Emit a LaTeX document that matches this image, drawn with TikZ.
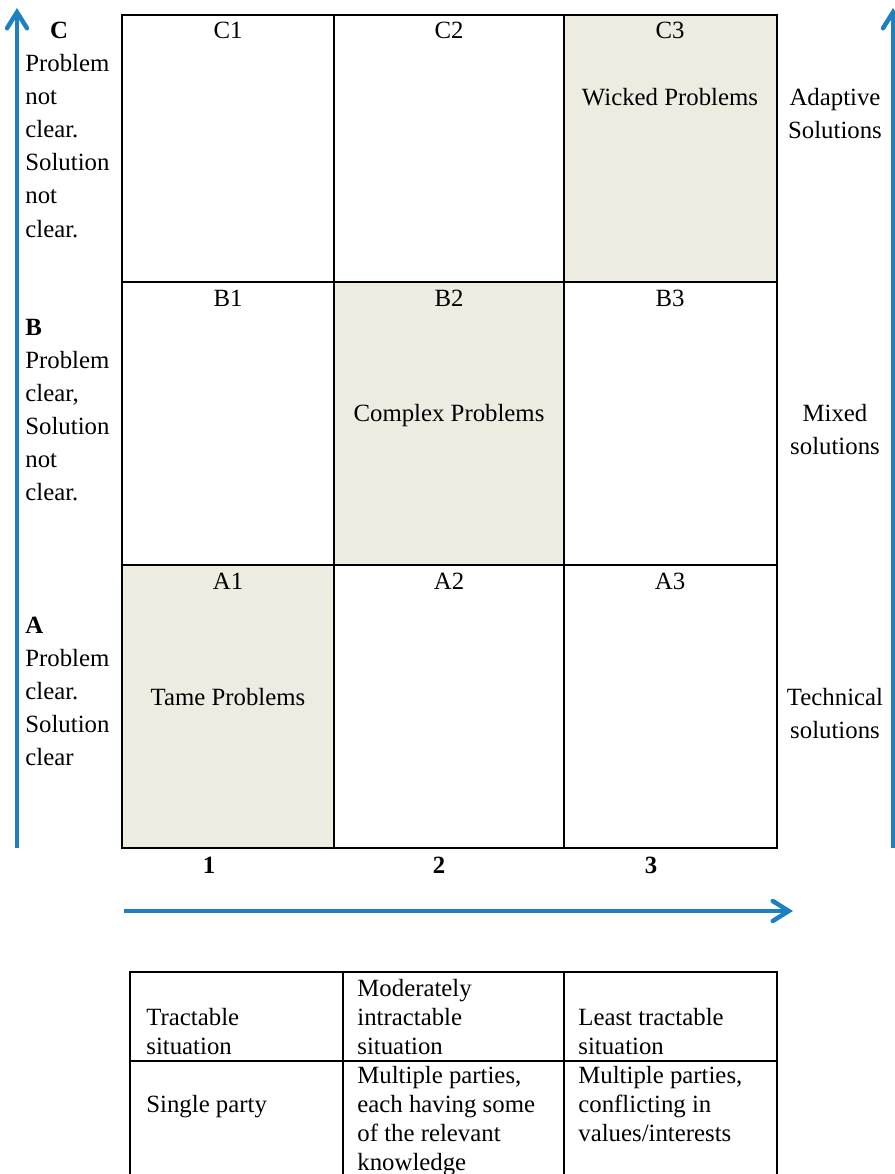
\documentclass[tikz,border=0pt]{standalone}
\usepackage{fontspec}
\setmainfont{Liberation Serif}
\usetikzlibrary{arrows.meta}

\definecolor{axisblue}{RGB}{31,128,193}
\definecolor{cellshade}{RGB}{238,235,224}

\tikzset{
  txt/.style={inner sep=0pt, font=\fontsize{12.4}{16.6}\selectfont},
  blocktxt/.style={txt, anchor=north west, align=left},
  sidetxt/.style={txt, anchor=north, align=center},
  tabtxt/.style={inner sep=0pt, anchor=north west, align=left, font=\fontsize{12.4}{14.5}\selectfont},
  axisarrow/.style={axisblue, line width=2.25pt, -{Straight Barb[length=8pt,width=10pt,line cap=round]}},
  gridline/.style={line width=1pt},
}

\begin{document}
\begin{tikzpicture}[x=0.5pt,y=-0.5pt]
\useasboundingbox (0,0) rectangle (895,1174);

% Shaded cells
\fill[cellshade] (564,15) rectangle (777,282);
\fill[cellshade] (334,282) rectangle (564,565);
\fill[cellshade] (122,565) rectangle (334,848);

% Grid
\draw[gridline] (122,15) rectangle (777,848);
\foreach \x in {334,564} \draw[gridline] (\x,15) -- (\x,848);
\foreach \y in {282,565} \draw[gridline] (122,\y) -- (777,\y);

% Cell labels
\foreach \n/\x in {1/228,2/449,3/670} {
  \node[txt] (C\n) at (\x,30) {C\n};
  \node[txt] (B\n) at (\x,298) {B\n};
  \node[txt] (A\n) at (\x,581) {A\n};
}
\node[txt, anchor=base] (wicked) at (670,105) {Wicked Problems};
\node[txt, anchor=base] (complex) at (449,421) {Complex Problems};
\node[txt, anchor=base] (tame) at (228,705) {Tame Problems};

% Left side
\node[txt, font=\fontsize{12.4}{16.6}\selectfont\bfseries] (rowC) at (59,30) {C};
\node[blocktxt] (textC) at (25,53.5) {Problem\\not\\clear.\\Solution\\not\\clear.};
\node[txt, anchor=west, font=\fontsize{12.4}{16.6}\selectfont\bfseries] (rowB) at (25,327) {B};
\node[blocktxt] (textB) at (25,350.5) {Problem\\clear,\\Solution\\not\\clear.};
\node[txt, anchor=west, font=\fontsize{12.4}{16.6}\selectfont\bfseries] (rowA) at (25,625) {A};
\node[blocktxt] (textA) at (25,648.5) {Problem\\clear.\\Solution\\clear};

% Right side
\node[sidetxt] (adaptive) at (835,87.5) {Adaptive\\Solutions};
\node[sidetxt] (mixed) at (835,403.5) {Mixed\\solutions};
\node[sidetxt] (technical) at (835,687.5) {Technical\\solutions};

% Column numbers
\node[txt, font=\fontsize{12.4}{16.6}\selectfont\bfseries] (col1) at (209,865) {1};
\node[txt, font=\fontsize{12.4}{16.6}\selectfont\bfseries] (col2) at (439,865) {2};
\node[txt, font=\fontsize{12.4}{16.6}\selectfont\bfseries] (col3) at (651,865) {3};

% Axes
\coordinate (leftbot) at (17,848);
\coordinate (lefttop) at (17,8);
\coordinate (rightbot) at (893,848);
\coordinate (righttop) at (893,8);
\coordinate (botleft) at (124,911);
\coordinate (botright) at (793,911);
\draw[axisarrow] (leftbot) -- (lefttop);
\draw[axisarrow] (rightbot) -- (righttop);
\draw[axisarrow] (botleft) -- (botright);

% Table
\draw[gridline] (130,1174) -- (130,972) -- (777,972) -- (777,1174);
\draw[gridline] (130,1061) -- (777,1061);
\foreach \x in {343,564} \draw[gridline] (\x,972) -- (\x,1174);

\node[tabtxt] (t11) at (146,1008) {Tractable\\situation};
\node[tabtxt] (t12) at (357,979) {Moderately\\intractable\\situation};
\node[tabtxt] (t13) at (578,1008) {Least tractable\\situation};
\node[tabtxt] (t21) at (146,1095) {Single party};
\node[tabtxt] (t22) at (357,1066) {Multiple parties,\\each having some\\of the relevant\\knowledge};
\node[tabtxt] (t23) at (578,1066) {Multiple parties,\\conflicting in\\values/interests};

\end{tikzpicture}
\end{document}
